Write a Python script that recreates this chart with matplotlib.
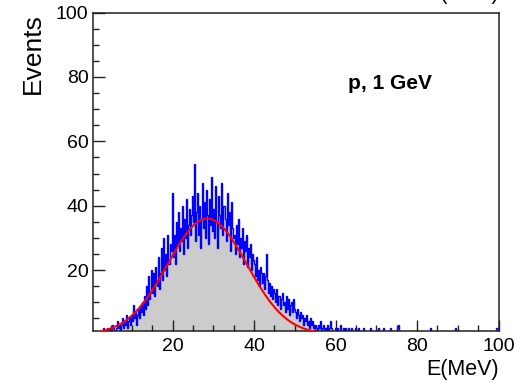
"""Energy deposit histogram, p 1 GeV, with gaussian fit (ROOT-like look)"""

import matplotlib
matplotlib.use("Agg")
import matplotlib.pyplot as plt
import matplotlib.ticker as mticker
import numpy as np

plt.rcParams["font.family"] = ["Liberation Sans", "DejaVu Sans"]

# histogram: 400 bins of 0.25 MeV from 0 to 100, one row = 5 MeV
BIN_EDGES_RANGE = (0.0, 100.0)
COUNTS_ROWS = [
    [0, 0, 0, 0, 0, 0, 0, 0, 0, 0, 1, 0, 2, 1, 0, 1, 2, 0, 1, 2],            # 0-5
    [1, 3, 2, 1, 2, 4, 2, 3, 1, 3, 5, 2, 4, 3, 6, 2, 4, 5, 3, 6],            # 5-10
    [4, 9, 5, 7, 3, 6, 8, 5, 9, 7, 10, 6, 12, 8, 15, 9, 18, 11, 13, 20],     # 10-15
    [13, 19, 12, 21, 16, 15, 24, 14, 19, 27, 17, 30, 20, 25, 18, 31, 22, 28, 26, 44],  # 15-20
    [24, 31, 22, 35, 28, 38, 26, 33, 29, 40, 25, 36, 30, 42, 27, 34, 39, 31, 37, 43],  # 20-25
    [35, 53, 29, 38, 44, 31, 40, 27, 36, 47, 33, 41, 30, 45, 37, 28, 42, 34, 49, 32],  # 25-30
    [39, 30, 46, 35, 27, 43, 37, 33, 47, 31, 40, 36, 29, 44, 34, 38, 26, 41, 33, 30],  # 30-35
    [31, 25, 34, 28, 36, 24, 30, 27, 33, 22, 29, 26, 31, 21, 27, 24, 28, 20, 25, 23],  # 35-40
    [22, 18, 24, 17, 20, 15, 21, 19, 16, 19, 14, 18, 25, 17, 13, 16, 12, 15, 11, 14],  # 40-45
    [13, 10, 14, 9, 12, 8, 11, 13, 9, 10, 7, 12, 8, 11, 6, 9, 10, 7, 11, 8],           # 45-50
    [7, 5, 8, 6, 4, 7, 5, 6, 3, 5, 4, 6, 3, 4, 2, 5, 3, 4, 2, 3],                      # 50-55
    [3, 2, 1, 3, 2, 4, 1, 2, 3, 1, 2, 0, 3, 1, 2, 4, 2, 1, 0, 2],                      # 55-60
    [1, 2, 0, 1, 3, 1, 0, 2, 1, 2, 0, 1, 2, 1, 0, 2, 1, 0, 1, 2],                      # 60-65
    [0, 1, 2, 0, 1, 0, 1, 2, 0, 1, 0, 0, 1, 0, 2, 1, 0, 1, 0, 0],                      # 65-70
    [1, 0, 2, 0, 1, 0, 0, 2, 1, 0, 0, 1, 0, 2, 0, 1, 0, 0, 1, 0],                      # 70-75
    [2, 3, 0, 0, 0, 0, 0, 0, 0, 0, 0, 0, 0, 0, 0, 0, 0, 0, 0, 0],                      # 75-80
    [0, 0, 0, 0, 0, 0, 0, 0, 0, 0, 0, 0, 0, 2, 0, 0, 0, 0, 0, 0],                      # 80-85
    [0, 0, 0, 0, 0, 0, 0, 0, 0, 0, 0, 0, 0, 0, 0, 0, 0, 2, 0, 0],                      # 85-90
    [0, 0, 0, 0, 0, 0, 0, 0, 0, 0, 0, 0, 0, 0, 0, 0, 0, 0, 0, 0],                      # 90-95
    [0, 0, 0, 0, 0, 0, 0, 0, 0, 0, 0, 0, 0, 0, 0, 0, 0, 0, 2, 0],                      # 95-100
]

# gaussian fit parameters
FIT_CONST = 36.0
FIT_MEAN = 28.5
FIT_SIGMA = 9.7
FIT_RANGE = (2.5, 60.0)

X_TICKS = [20, 40, 60, 80, 100]
Y_TICKS = [20, 40, 60, 80, 100]
LABEL_TEXT = "p, 1 GeV"

counts = np.array(COUNTS_ROWS, dtype=float).ravel()
edges = np.linspace(BIN_EDGES_RANGE[0], BIN_EDGES_RANGE[1], len(counts) + 1)

fig = plt.figure(figsize=(5.15, 3.83), dpi=100)
ax = fig.add_axes([0.18, 0.1358, 0.788, 0.8312])

ax.stairs(counts, edges, fill=True, color="#cccccc", zorder=1)
ax.stairs(counts, edges, color="#0000ff", linewidth=1.0, zorder=2)

xf = np.linspace(FIT_RANGE[0], FIT_RANGE[1], 400)
yf = FIT_CONST * np.exp(-0.5 * ((xf - FIT_MEAN) / FIT_SIGMA) ** 2)
ax.plot(xf, yf, color="#ff0000", linewidth=1.5, zorder=3)

ax.set_xlim(0.4, 100)
ax.set_ylim(1.05, 100)
ax.xaxis.set_major_locator(mticker.FixedLocator(X_TICKS))
ax.yaxis.set_major_locator(mticker.FixedLocator(Y_TICKS))
ax.xaxis.set_minor_locator(mticker.MultipleLocator(5))
ax.yaxis.set_minor_locator(mticker.MultipleLocator(5))
ax.tick_params(which="both", direction="in", top=False, right=False,
               width=1.0, color="#222222", labelsize=14)
ax.tick_params(axis="y", which="major", length=8.5, pad=3)
ax.tick_params(axis="y", which="minor", length=4.6)
ax.tick_params(axis="x", which="major", length=8, pad=5)
ax.tick_params(axis="x", which="minor", length=4)
for sp in ax.spines.values():
    sp.set_linewidth(1.1)
    sp.set_color("#222222")

fig.text(348 / 515, (383 - 89) / 383, LABEL_TEXT, fontsize=15,
         fontweight="bold", ha="left", va="baseline")
fig.text(32.5 / 515, (383 - 13) / 383, "Events", rotation=90, ha="center",
         va="top", fontsize=19)
fig.text(498.5 / 515, 3 / 383, "E(MeV)", ha="right", va="bottom", fontsize=15.5)
# duplicate title clipped at the top edge, as in the source image
fig.text(498.5 / 515, 379 / 383, "E(MeV)", ha="right", va="bottom", fontsize=15.5)

fig.savefig("out.png", dpi=100)
plt.close(fig)
